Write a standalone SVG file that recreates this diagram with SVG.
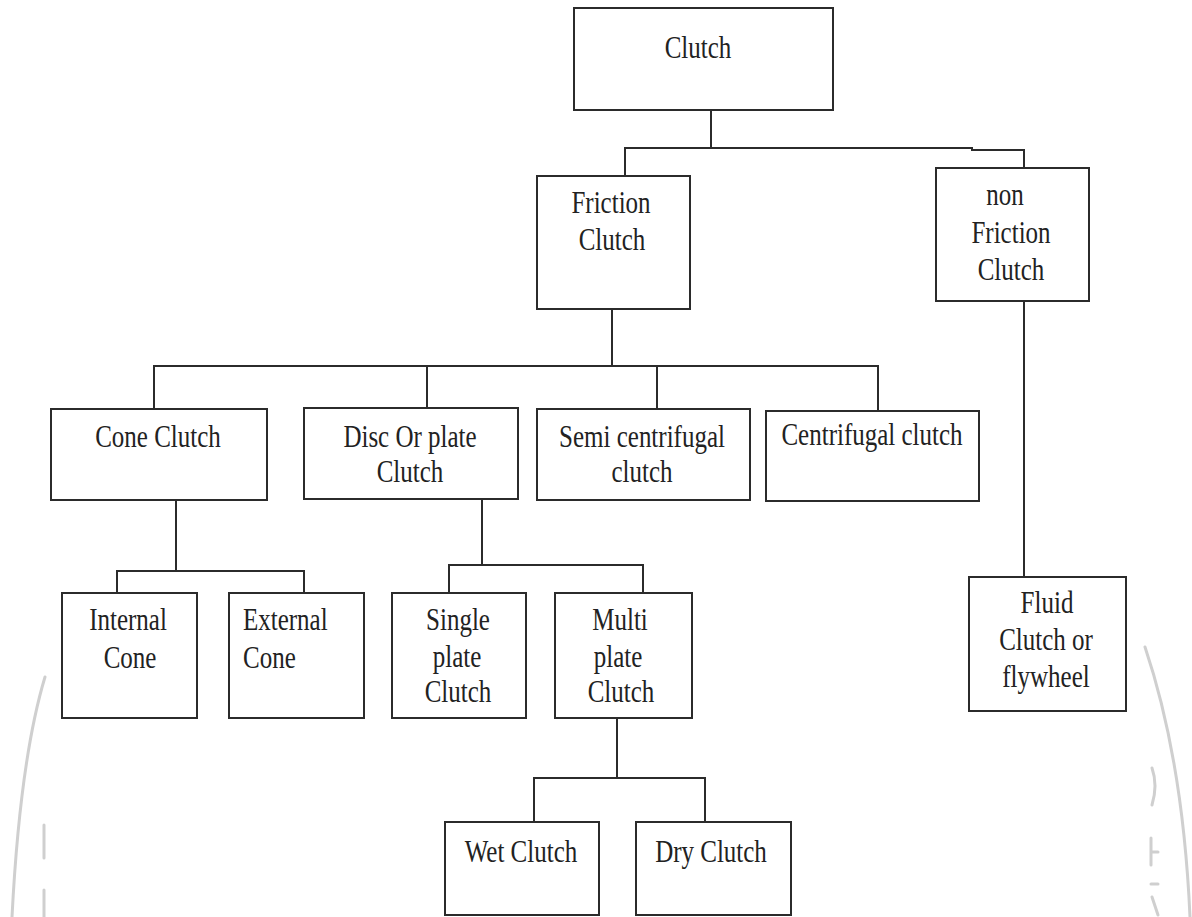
<svg xmlns="http://www.w3.org/2000/svg" width="1192" height="917" viewBox="0 0 1192 917">
<style>
.box{fill:#fff;stroke:#2b2b2b;stroke-width:2}
.ln{fill:none;stroke:#2b2b2b;stroke-width:2}
.wm{fill:none;stroke:#cfcfcf;stroke-width:3;stroke-linecap:round}
text{font-family:"Liberation Serif","Times New Roman",serif;font-size:25px;fill:#222;text-anchor:middle}
text.s{text-anchor:start}
</style>
<rect width="1192" height="917" fill="#fff"/>
<g id="watermark">
<path class="wm" d="M45,677 Q20,760 12,917"/>
<path class="wm" d="M44,825 V858 M44,890 V917"/>
<path class="wm" d="M1145,647 Q1183,760 1190,917"/>
<path class="wm" stroke-width="5" d="M1152,768 Q1158,785 1152,805"/>
<path class="wm" stroke-width="5" d="M1151,838 V865 M1151,852 H1158 M1151,884 H1158 M1152,897 L1158,915"/>
</g>
<g id="connectors">
<path class="ln" d="M711,110 V148 M625,176 V148 H972 V150 H1024 V168"/>
<path class="ln" d="M612,309 V366 M154,409 V366 H878 V411 M427,366 V408 M657,366 V409"/>
<path class="ln" d="M176,500 V571 M117,593 V571 H304 V593"/>
<path class="ln" d="M482,499 V565 M449,593 V565 H643 V593"/>
<path class="ln" d="M617,718 V778 M534,822 V778 H705 V822"/>
<path class="ln" d="M1024,301 V577"/>
</g>
<g id="clutch"><rect class="box" x="574" y="8" width="259" height="102"/>
<text transform="translate(698,58) scale(1,1.25)">Clutch</text></g>
<g id="friction"><rect class="box" x="537" y="176" width="153" height="133"/>
<text transform="translate(611,213) scale(1,1.25)">Friction</text>
<text transform="translate(612,250) scale(1,1.25)">Clutch</text></g>
<g id="nonfriction"><rect class="box" x="936" y="168" width="153" height="133"/>
<text transform="translate(1005,205) scale(1,1.25)">non</text>
<text transform="translate(1011,243) scale(1,1.25)">Friction</text>
<text transform="translate(1011,280) scale(1,1.25)">Clutch</text></g>
<g id="cone"><rect class="box" x="51" y="409" width="216" height="91"/>
<text transform="translate(158,447) scale(1,1.25)">Cone Clutch</text></g>
<g id="disc"><rect class="box" x="304" y="408" width="214" height="91"/>
<text transform="translate(410,447) scale(1,1.25)">Disc Or plate</text>
<text transform="translate(410,482) scale(1,1.25)">Clutch</text></g>
<g id="semi"><rect class="box" x="537" y="409" width="213" height="91"/>
<text transform="translate(642,447) scale(1,1.25)">Semi centrifugal</text>
<text transform="translate(642,482) scale(1,1.25)">clutch</text></g>
<g id="centrifugal"><rect class="box" x="766" y="411" width="213" height="90"/>
<text transform="translate(872,445) scale(1,1.25)">Centrifugal clutch</text></g>
<g id="internal"><rect class="box" x="62" y="593" width="135" height="125"/>
<text transform="translate(128,630) scale(1,1.25)">Internal</text>
<text transform="translate(130,668) scale(1,1.25)">Cone</text></g>
<g id="external"><rect class="box" x="229" y="593" width="135" height="125"/>
<text class="s" transform="translate(243,630) scale(1,1.25)">External</text>
<text class="s" transform="translate(243,668) scale(1,1.25)">Cone</text></g>
<g id="single"><rect class="box" x="392" y="593" width="134" height="125"/>
<text transform="translate(458,630) scale(1,1.25)">Single</text>
<text transform="translate(457,667) scale(1,1.25)">plate</text>
<text transform="translate(458,702) scale(1,1.25)">Clutch</text></g>
<g id="multi"><rect class="box" x="555" y="593" width="137" height="125"/>
<text transform="translate(620,630) scale(1,1.25)">Multi</text>
<text transform="translate(618,667) scale(1,1.25)">plate</text>
<text transform="translate(621,702) scale(1,1.25)">Clutch</text></g>
<g id="fluid"><rect class="box" x="969" y="577" width="157" height="134"/>
<text transform="translate(1047,613) scale(1,1.25)">Fluid</text>
<text transform="translate(1046,650) scale(1,1.25)">Clutch or</text>
<text transform="translate(1046,687) scale(1,1.25)">flywheel</text></g>
<g id="wet"><rect class="box" x="445" y="822" width="154" height="93"/>
<text transform="translate(521,862) scale(1,1.25)">Wet Clutch</text></g>
<g id="dry"><rect class="box" x="636" y="822" width="155" height="93"/>
<text transform="translate(711,862) scale(1,1.25)">Dry Clutch</text></g>
</svg>
